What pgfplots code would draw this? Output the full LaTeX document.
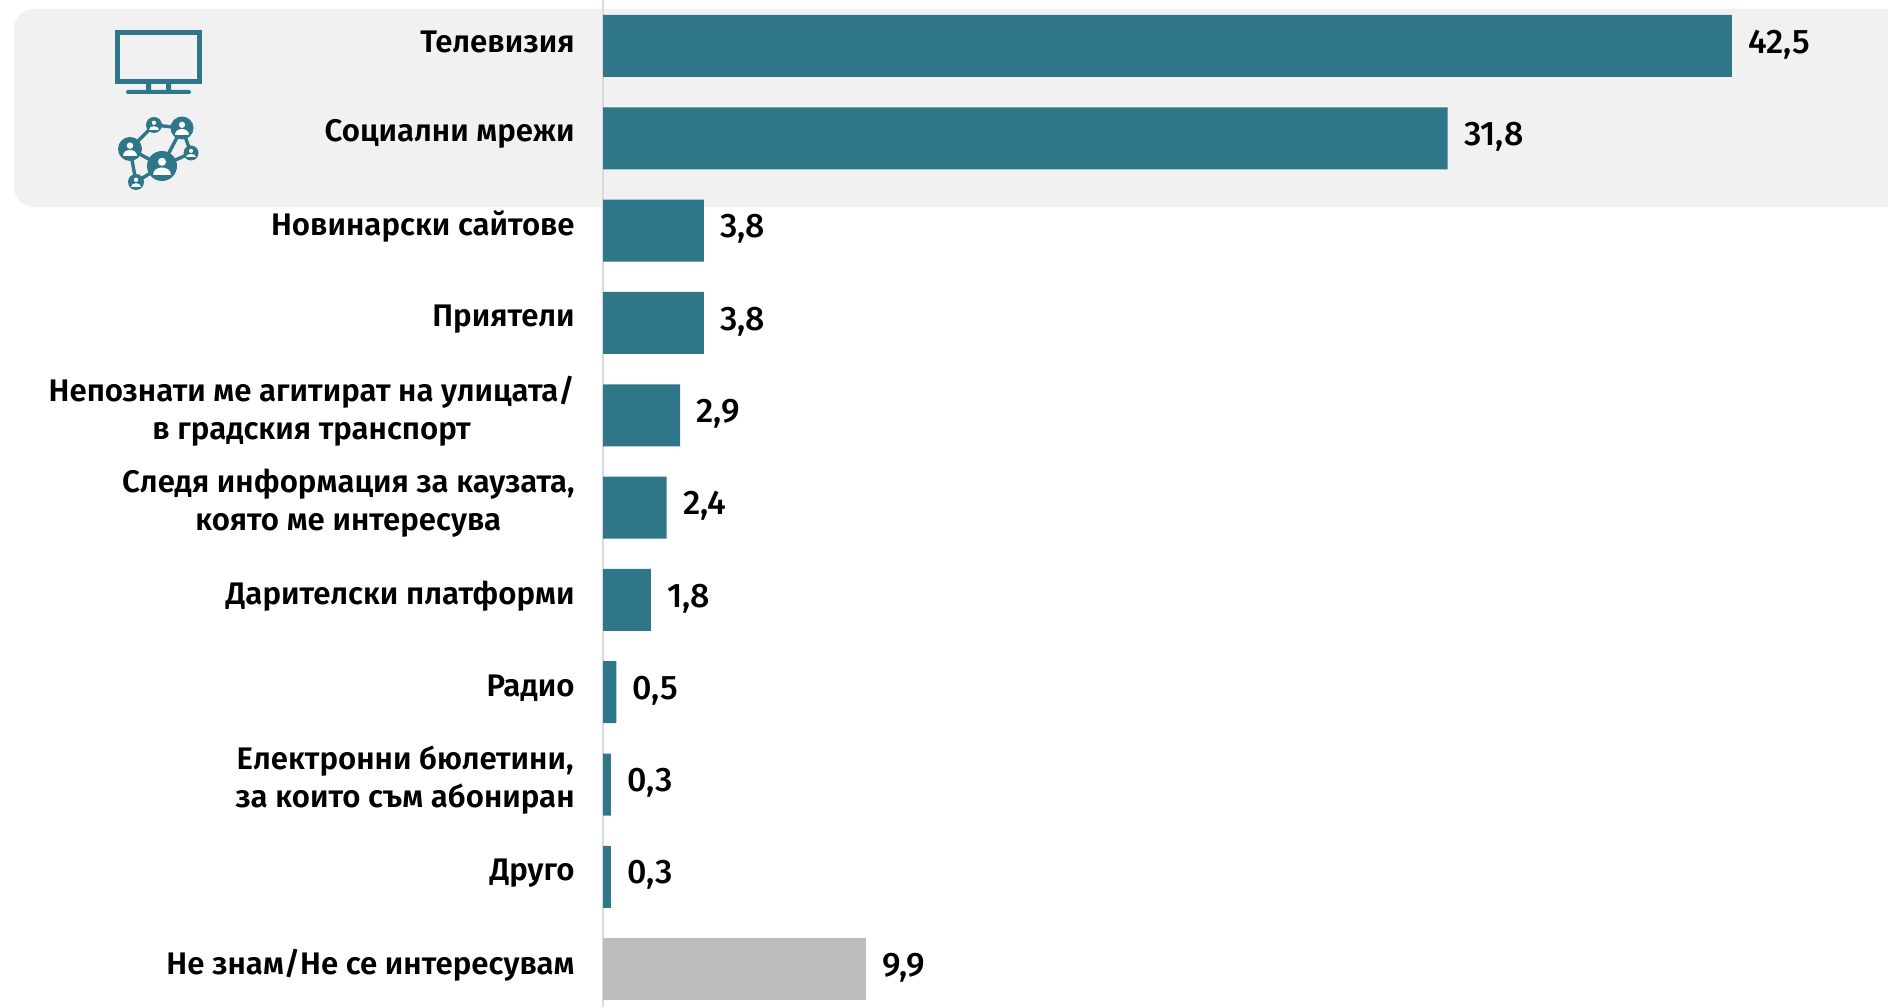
\documentclass[border=0pt]{standalone}
\usepackage{pgfplots}
\pgfplotsset{compat=1.18}
\usepackage{fontspec}
\setmainfont{Fira Sans SemiBold}[Script=Cyrillic,Language=Bulgarian]
\newfontfamily\numfont{Fira Sans Medium}
\definecolor{teal1}{HTML}{2F7689}
\definecolor{grayb}{HTML}{BDBDBD}
\definecolor{panel}{HTML}{F1F1F1}
\definecolor{axln}{HTML}{DADADA}
\newcommand{\person}[3]{% x y r
  \fill[white] (#1,#2-0.28*#3) circle ({0.27*#3});
  \fill[white] (#1-0.62*#3,#2+0.6*#3) .. controls (#1-0.62*#3,#2-0.05*#3) and (#1+0.62*#3,#2-0.05*#3) .. (#1+0.62*#3,#2+0.6*#3) -- cycle;
}
\begin{document}
\begin{tikzpicture}[x=0.5pt,y=0.5pt]
\useasboundingbox (0,0) rectangle (1888,1007);
\fill[panel] (1888,800) [rounded corners=10pt] -- (14,800) -- (14,998) [sharp corners] -- (1888,998) -- cycle;
\begin{axis}[at={(301.5pt,0pt)},anchor=south west,scale only axis,width=642.5pt,height=503.5pt,
  xmin=0,xmax=48.38,ymin=-0.498,ymax=10.41,y dir=reverse,
  axis x line=none,axis y line*=left,
  y axis line style={draw=axln,line width=1pt,-},
  xtick=\empty,ytick={0,...,10},major tick length=0pt,
  yticklabels={Телевизия,Социални мрежи,Новинарски сайтове,Приятели,
    Непознати ме агитират на улицата/\\в градския транспорт,
    {Следя информация за каузата,\\която ме интересува},
    Дарителски платформи,Радио,
    {Електронни бюлетини,\\за които съм абониран},Друго,Не знам/Не се интересувам},
  yticklabel style={align=center,anchor=east,inner sep=0pt,xshift=-14pt,yshift=2pt,font=\fontsize{15.6}{19}\selectfont},
  xbar,bar width=31pt,bar shift=0pt,
  point meta=x,
  nodes near coords,
  nodes near coords style={anchor=west,inner sep=0pt,xshift=8pt,yshift=0.8pt,black,font=\numfont\fontsize{17}{19}\selectfont,
     /pgf/number format/fixed,/pgf/number format/fixed zerofill,/pgf/number format/precision=1,/pgf/number format/use comma,/pgf/number format/assume math mode=true},
  clip=false]
\addplot[fill=teal1,draw=none] coordinates {(42.5,0)(31.8,1)(3.8,2)(3.8,3)(2.9,4)(2.4,5)(1.8,6)(0.5,7)(0.3,8)(0.3,9)};
\addplot[fill=grayb,draw=none] coordinates {(9.9,10)};
\end{axis}
% icons (pixel coordinates from top-left)
\begin{scope}[shift={(0,1007)},yscale=-1]
\draw[teal1,line width=2.5pt] (117.5,32.5) rectangle (199.5,82);
\fill[teal1] (146,84) rectangle (151,90) (166,84) rectangle (171,90);
\fill[teal1,rounded corners=1pt] (126,90) rectangle (191,94);
\draw[teal1,line width=1.7pt] (154,125)--(182,128) (154,125)--(130,149) (182,128)--(162,166) (182,128)--(191,153) (191,153)--(162,166) (130,149)--(162,166) (130,149)--(136,182) (136,182)--(162,166);
\foreach \x/\y/\r in {154/125/8,182/128/11.5,130/149/12,162/166/15,191/153/7.5,136/182/8}{
  \fill[teal1] (\x,\y) circle (\r);
  \person{\x}{\y}{\r}
}
\end{scope}
\end{tikzpicture}
\end{document}
